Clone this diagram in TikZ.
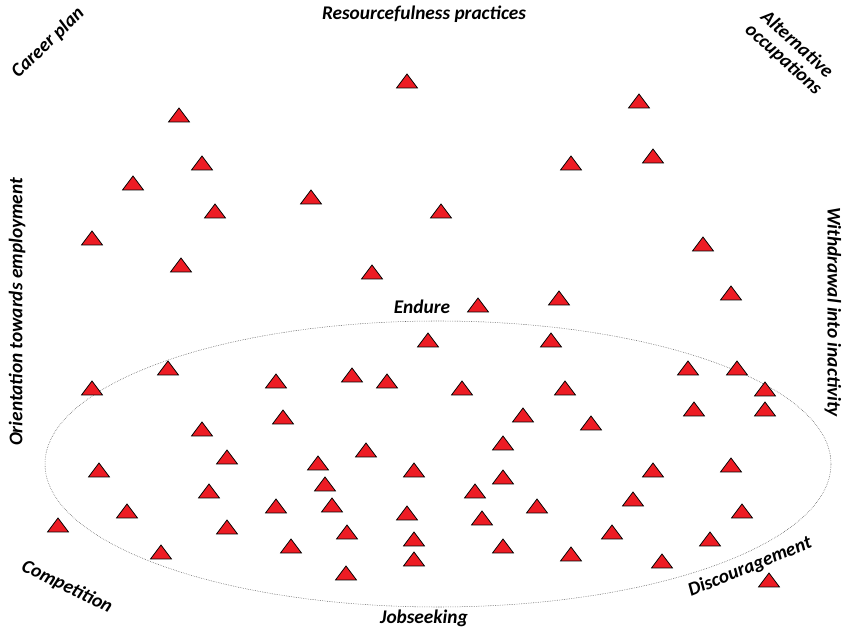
\documentclass[tikz,border=0pt]{standalone}
\usepackage{fontspec}
\setmainfont{Carlito}
\definecolor{trired}{RGB}{237,28,36}
\tikzset{
  tri/.style={fill=trired, draw=black, line width=0.55pt, line join=miter},
  lab/.style={font=\bfseries\itshape\fontsize{14.5}{15}\selectfont, align=center, inner sep=0pt},
  ring/.style={draw=black!75, line width=0.4pt, dash pattern=on 0.4pt off 0.9pt},
}
\begin{document}
\begin{tikzpicture}[x=0.75pt,y=-0.75pt]
            \useasboundingbox (0,0) rectangle (843,630);

            % Jobseeking region (dotted ellipse)
            \draw[ring] (438,464) ellipse [x radius=393, y radius=143];

            % Respondents (red triangles)
            \foreach \x/\y in {407/81, 639/101, 179/115, 202/163, 571/163, 653/156,
                133/183, 311/197, 215/211, 441/211, 92/238, 703/244, 181/265,
                372/272, 731/293, 478/305, 559/298, 428/340, 551/340, 168/368,
                92/388, 276/381, 352/375, 387/381, 462/388, 565/388, 688/368,
                737/368, 765/389, 283/417, 523/415, 591/423, 694/409, 765/409,
                202/429, 503/443, 366/450, 227/457, 318/463, 99/470, 414/470,
                503/477, 653/470, 731/465, 325/484, 209/491, 475/491, 332/505,
                276/506, 537/506, 633/499, 127/511, 407/513, 742/511, 482/518,
                58/525, 227/527, 347/532, 612/532, 414/539, 291/546, 503/546,
                710/539, 161/552, 571/554, 414/559, 662/561, 346/573, 769/580}
              \filldraw[tri] (\x,\y) +(0,-7) -- +(10.5,7) -- +(-10.5,7) -- cycle;

            % Corner and side labels
            \node[lab] (resource) at (424,14) {Resourcefulness practices};
            \node[lab, rotate=44] (career) at (48,43) {Career plan};
            \node[lab, rotate=-42] (altocc) at (790,52) {Alternative\\occupations};
            \node[lab, rotate=90] (orient) at (17,312) {Orientation towards employment};
            \node[lab, rotate=-90] (withdraw) at (833,312) {Withdrawal into inactivity};

            % Labels on the ellipse
            \node[lab] (endure) at (422,307) {Endure};
            \node[lab] (jobseek) at (424,618) {Jobseeking};
            \node[lab, rotate=-26] (compet) at (67,587) {Competition};
            \node[lab, rotate=22] (discour) at (750,567) {Discouragement};
        \end{tikzpicture}
\end{document}
